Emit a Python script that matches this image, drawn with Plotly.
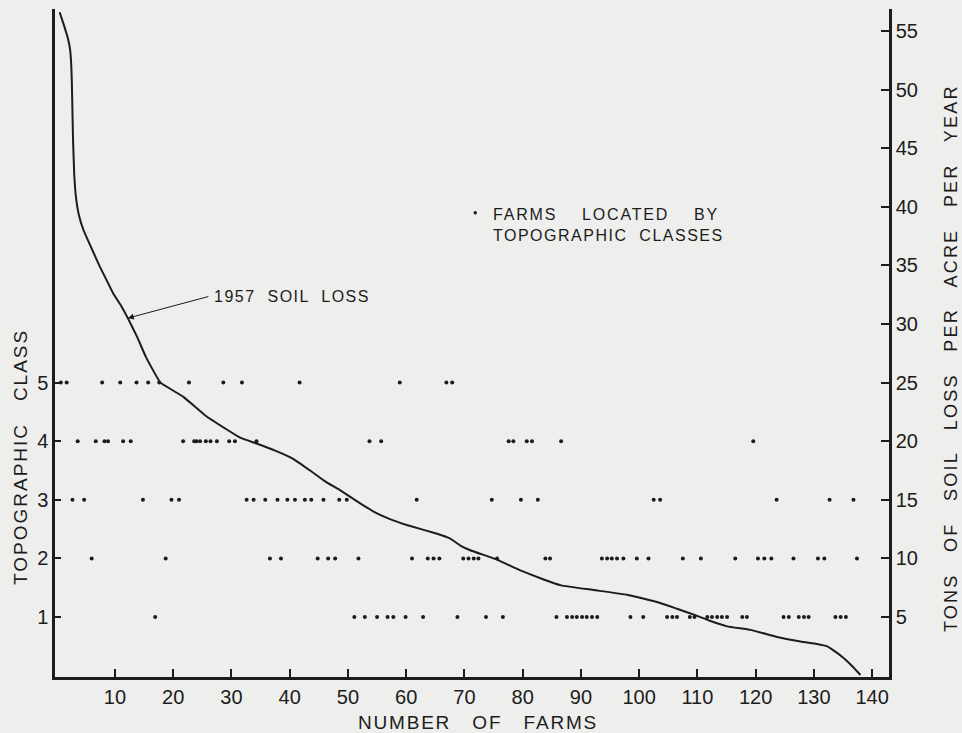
import plotly.graph_objects as go

# Farm positions (number of farms) for each topographic class
class1_farms = [16.9, 51.1, 52.9, 55.0, 56.8, 57.8, 59.9, 62.9, 68.8, 73.7, 76.6, 85.8, 87.6,
                88.5, 89.3, 90.2, 91.0, 91.9, 92.8, 98.5, 100.7, 104.8, 105.7, 106.5, 108.7,
                109.5, 111.7, 112.5, 113.4, 114.2, 115.1, 117.7, 118.5, 124.8, 125.7, 127.4,
                128.3, 129.1, 133.7, 134.6, 135.5]
class2_farms = [6.0, 18.7, 36.6, 38.5, 44.8, 46.6, 47.8, 51.8, 61.0, 63.7, 64.7, 65.7, 69.8,
                70.7, 71.6, 72.4, 75.6, 83.9, 84.7, 93.6, 94.5, 95.3, 96.2, 97.3, 99.6, 101.6,
                107.5, 110.6, 116.5, 120.4, 121.5, 122.7, 126.5, 130.7, 131.8, 137.4]
class3_farms = [2.7, 4.7, 14.8, 19.7, 21.0, 32.6, 33.8, 35.8, 37.9, 39.6, 40.9, 42.6, 43.7,
                45.8, 48.5, 49.8, 61.8, 74.7, 79.7, 82.6, 102.5, 103.6, 123.6, 132.7, 136.8]
class4_farms = [3.6, 6.7, 8.2, 8.8, 11.4, 12.7, 21.7, 23.6, 24.0, 24.6, 25.6, 26.4, 27.5,
                29.6, 30.6, 34.3, 53.7, 55.7, 77.6, 78.4, 80.7, 81.6, 86.6, 119.6]
class5_farms = [0.7, 1.7, 7.8, 10.9, 13.7, 15.7, 17.6, 22.7, 28.6, 31.8, 41.7, 58.9, 66.9, 67.9]

# 1957 soil loss curve: farms ranked by tons of soil loss per acre per year
loss_farms = [0.5, 1.3, 1.9, 2.3, 2.5, 2.6, 2.7, 2.8, 3.0, 3.3, 3.8, 4.6, 5.4, 6.3, 7.4,
              8.6, 9.7, 11.0, 12.2, 13.8, 15.3, 17.8, 21.7, 25.5, 29.2, 31.5, 34.3, 37.5,
              40.6, 43.5, 46.0, 48.7, 52.1, 54.4, 57.0, 60.1, 65.3, 67.5, 69.3, 71.0, 72.7,
              75.6, 79.5, 83.6, 86.6, 92.2, 97.9, 100.5, 103.6, 106.5, 109.4, 112.0, 115.1,
              119.1, 123.7, 127.7, 130.5, 132.3, 133.8, 135.1, 136.6, 138.0]
loss_tons = [56.6, 55.4, 54.4, 53.4, 52.0, 50.5, 48.0, 45.7, 42.8, 40.8, 39.3, 38.0, 37.1,
             36.1, 34.9, 33.7, 32.6, 31.6, 30.5, 28.9, 27.2, 25.0, 23.8, 22.2, 21.0, 20.3,
             19.8, 19.2, 18.5, 17.5, 16.6, 15.8, 14.7, 14.0, 13.4, 12.85, 12.1, 11.7, 11.1,
             10.7, 10.4, 9.9, 9.0, 8.2, 7.7, 7.3, 6.9, 6.6, 6.2, 5.7, 5.2, 4.7, 4.2, 3.9,
             3.3, 2.9, 2.7, 2.5, 2.0, 1.5, 0.8, 0.05]

x_ticks = [10, 20, 30, 40, 50, 60, 70, 80, 90, 100, 110, 120, 130, 140]
tons_ticks = [5, 10, 15, 20, 25, 30, 35, 40, 45, 50, 55]
class_ticks = [1, 2, 3, 4, 5]

W, H = 962, 733
L, R, T, B = 55, 889, 9, 677  # plot area edges in pixels

INK = "#1c1c1c"
BG = "#eeeeec"
FONT = "Liberation Sans"

TONS_RANGE = [-0.12, 56.88]
CLASS_RANGE = [v / 5 for v in TONS_RANGE]


def px_x(p):
    return (p - L) / (R - L)


def px_y(p):
    return (B - p) / (B - T)


def spaced(text, gap):
    """Lettering with extra tracking between characters."""
    return f'<span style="letter-spacing:{gap}px">{text}</span>'


fig = go.Figure()

class_series = [class1_farms, class2_farms, class3_farms, class4_farms, class5_farms]
for level, farms in zip(class_ticks, class_series):
    fig.add_trace(go.Scatter(
        x=farms, y=[level] * len(farms), yaxis="y2", mode="markers",
        marker=dict(size=4, color=INK), showlegend=False, hoverinfo="skip"))

fig.add_trace(go.Scatter(
    x=loss_farms, y=loss_tons, yaxis="y", mode="lines",
    line=dict(color=INK, width=2, shape="spline", smoothing=0.3),
    showlegend=False, hoverinfo="skip"))

title_font = dict(size=19, color=INK, family=FONT)
right_title_font = dict(size=18, color=INK, family=FONT)
note_font = dict(size=16, color=INK, family=FONT)

annotations = [
    dict(text=spaced("NUMBER   OF   FARMS", 1.8), x=px_x(478), y=px_y(722),
         xref="paper", yref="paper", xanchor="center", yanchor="middle",
         showarrow=False, font=title_font),
    dict(text=spaced("TOPOGRAPHIC   CLASS", 2), x=px_x(20), y=px_y(457),
         xref="paper", yref="paper", xanchor="center", yanchor="middle",
         showarrow=False, textangle=-90, font=title_font),
    dict(text=spaced("TONS   OF   SOIL   LOSS   PER   ACRE   PER   YEAR", 2.2),
         x=px_x(951), y=px_y(358), xref="paper", yref="paper", xanchor="center",
         yanchor="middle", showarrow=False, textangle=-90, font=right_title_font),
    dict(text=spaced("FARMS    LOCATED    BY", 1.8) + "<br>"
         + spaced("TOPOGRAPHIC  CLASSES", 1.5),
         x=px_x(491), y=px_y(225), xref="paper", yref="paper", xanchor="left",
         yanchor="middle", align="left", showarrow=False, font=note_font),
    dict(text=spaced("1957  SOIL  LOSS", 1.5), x=px_x(212), y=px_y(296), xref="paper",
         yref="paper", xanchor="left", yanchor="middle", showarrow=False, font=note_font),
    dict(text="", x=12.2, y=30.5, xref="x", yref="y", ax=82, ay=-22, axref="pixel",
         ayref="pixel", showarrow=True, arrowhead=2, arrowsize=1.2, arrowwidth=1,
         arrowcolor=INK),
]

shapes = [
    dict(type="circle", xref="paper", yref="paper", x0=px_x(473.5), x1=px_x(477),
         y0=px_y(214.5), y1=px_y(211), fillcolor=INK, line=dict(width=0)),
]

axis_font = dict(size=20, color=INK, family=FONT)

fig.update_layout(
    width=W, height=H,
    margin=dict(l=L, r=W - R, t=T, b=H - B),
    paper_bgcolor=BG, plot_bgcolor=BG,
    showlegend=False,
    annotations=annotations,
    shapes=shapes,
    xaxis=dict(range=[-0.3, 142.9], tickvals=x_ticks, ticks="inside", ticklen=8,
               tickwidth=2, tickcolor=INK, showline=True, linewidth=2.5, linecolor=INK,
               showgrid=False, zeroline=False, tickfont=axis_font),
    yaxis=dict(range=TONS_RANGE, side="right", tickvals=tons_ticks, ticks="inside",
               ticklen=8, tickwidth=2, tickcolor=INK, showline=True, linewidth=2.5,
               linecolor=INK, showgrid=False, zeroline=False, tickfont=axis_font),
    yaxis2=dict(range=CLASS_RANGE, side="left", overlaying="y", tickvals=class_ticks,
                ticks="inside", ticklen=6, tickwidth=2, tickcolor=INK, showline=True,
                linewidth=2.5, linecolor=INK, showgrid=False, zeroline=False,
                tickfont=axis_font),
)

fig.write_html("out.html")
